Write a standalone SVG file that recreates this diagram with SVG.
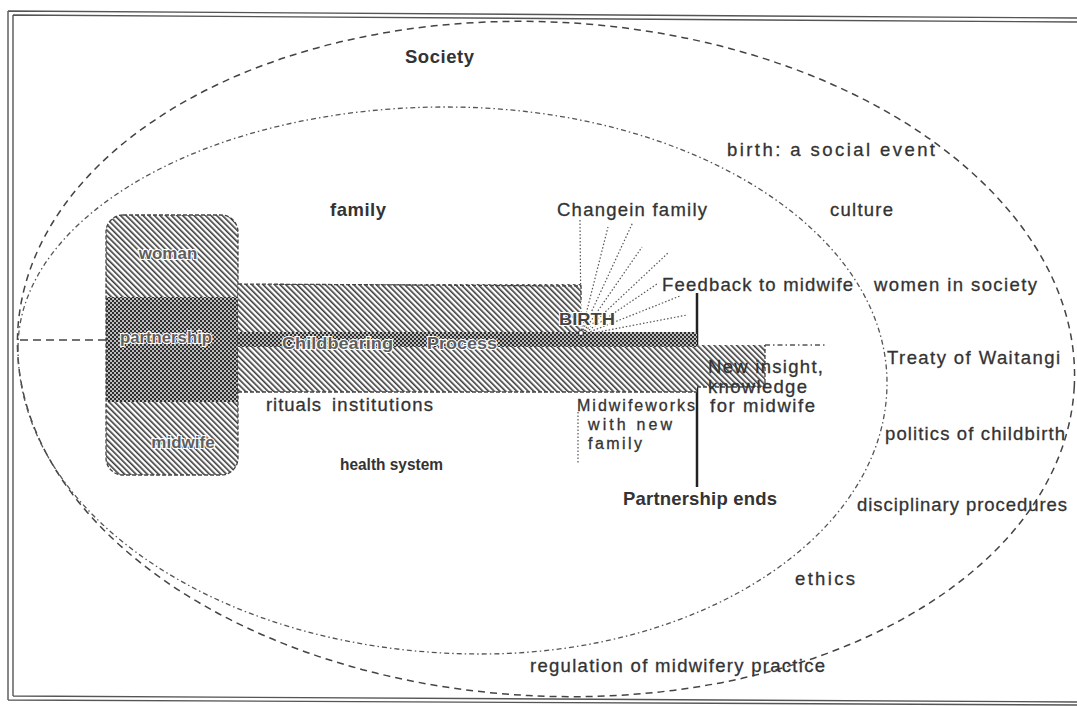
<svg xmlns="http://www.w3.org/2000/svg" width="1077" height="706" viewBox="0 0 1077 706">
<style>
.t{font-family:"Liberation Sans",Arial,sans-serif;font-size:18.5px;fill:#333;stroke:#333;stroke-width:0.3px}
.s{font-size:16px}
.b{font-weight:bold;stroke-width:0}
.g{font-family:"Liberation Sans",Arial,sans-serif;font-size:17px;font-weight:bold;fill:#5e5e5e;stroke:#fff;stroke-width:2.2px;paint-order:stroke}
.frame{fill:none;stroke:#555;stroke-width:1.4}
.outer{fill:none;stroke:#444;stroke-width:1.5;stroke-dasharray:7 5}
.inner{fill:none;stroke:#555;stroke-width:1.3;stroke-dasharray:5 3 1.5 3}
.ray{fill:none;stroke:#555;stroke-width:1.2;stroke-dasharray:1.5 2}
.edge{fill:none;stroke:#444;stroke-width:1.3;stroke-dasharray:4 2}
</style>
<defs>
<pattern id="hatch" width="4" height="4" patternUnits="userSpaceOnUse" patternTransform="rotate(-45)">
<rect width="4" height="4" fill="#fff"/><rect width="1.6" height="4" fill="#3a3a3a"/>
</pattern>
<pattern id="check" width="4" height="4" patternUnits="userSpaceOnUse">
<rect width="4" height="4" fill="#bdbdbd"/><rect width="2" height="2" fill="#2e2e2e"/><rect x="2" y="2" width="2" height="2" fill="#2e2e2e"/>
</pattern>
<clipPath id="boxclip"><rect x="106" y="215" width="132" height="260" rx="17"/></clipPath>
</defs>
<rect width="1077" height="706" fill="#fff"/>
<g id="frame">
<path class="frame" d="M8 11 L1077 18 M8 11 L8 700 M8 700 L1077 705"/>
<path class="frame" d="M13 15 L1077 22 M13 15 L13 696 M13 696 L1077 702"/>
</g>
<g id="society-ellipse">
<ellipse class="outer" cx="546" cy="359" rx="529" ry="337" transform="rotate(3 546 359)"/>
</g>
<g id="family-ellipse">
<path class="inner" d="M18 348 C18 215 210 107 446 107 C690 107 887 231 887 383 C887 533 705 654 481 654 C225 654 18 517 18 348 Z"/>
</g>
<g id="connectors">
<path d="M20 340 L106 340" fill="none" stroke="#444" stroke-width="1.5" stroke-dasharray="8 5"/>
<path class="ray" d="M581 330 L580 220 M582 330 L608 227 M583 330 L633 222 M584 331 L642 247 M585 331 L668 253 M586 332 L657 284 M587 333 L680 296 M588 334 L687 315"/>
<path d="M765 345 L826 345" fill="none" stroke="#555" stroke-width="1.3" stroke-dasharray="5 3 1.5 3"/>
<path class="ray" d="M578 412 L578 463"/>
<path d="M697 293 L697 487" fill="none" stroke="#222" stroke-width="2.5"/>
</g>
<g id="partners-box">
<g clip-path="url(#boxclip)">
<rect x="106" y="215" width="132" height="82" fill="url(#hatch)"/>
<rect x="106" y="297" width="132" height="105" fill="url(#check)"/>
<rect x="106" y="402" width="132" height="73" fill="url(#hatch)"/>
</g>
<rect class="edge" x="106" y="215" width="132" height="260" rx="17"/>
<text class="g" x="168" y="259" text-anchor="middle">woman</text>
<text class="g" x="166" y="343" text-anchor="middle" textLength="92" lengthAdjust="spacingAndGlyphs">partnership</text>
<text class="g" x="183" y="448" text-anchor="middle">midwife</text>
</g>
<g id="process-bar">
<rect x="238" y="284" width="343" height="49" fill="url(#hatch)"/>
<rect x="238" y="347" width="459" height="45" fill="url(#hatch)"/>
<rect x="697" y="345" width="68" height="42" fill="url(#hatch)"/>
<rect x="238" y="332" width="459" height="15" fill="url(#check)"/>
<path class="edge" d="M238 284 L581 286 L581 300 M238 392 L697 392 M697 387 L765 387 L765 345"/>
<text class="g" x="282" y="349" textLength="111" lengthAdjust="spacingAndGlyphs">Childbearing</text>
<text class="g" x="427" y="349" textLength="70" lengthAdjust="spacingAndGlyphs">Process</text>
<text class="g" x="559" y="325" textLength="56" lengthAdjust="spacingAndGlyphs" style="fill:#444">BIRTH</text>
<circle cx="581" cy="333" r="2.5" fill="#fff" stroke="#444" stroke-width="1.2"/>
</g>
<g id="labels">
<text class="t b" x="405" y="63" textLength="69" lengthAdjust="spacing">Society</text>
<text class="t" x="727" y="156" textLength="208" lengthAdjust="spacing">birth: a social event</text>
<text class="t b" x="330" y="216" textLength="56" lengthAdjust="spacing">family</text>
<text class="t" x="557" y="216" textLength="150" lengthAdjust="spacing">Changein family</text>
<text class="t" x="830" y="216" textLength="63" lengthAdjust="spacing">culture</text>
<text class="t" x="662" y="291" textLength="191" lengthAdjust="spacing">Feedback to midwife</text>
<text class="t" x="874" y="291" textLength="163" lengthAdjust="spacing">women in society</text>
<text class="t" x="887" y="364" textLength="173" lengthAdjust="spacing">Treaty of Waitangi</text>
<text class="t" x="885" y="440" textLength="180" lengthAdjust="spacing">politics of childbirth</text>
<text class="t" x="857" y="511" textLength="210" lengthAdjust="spacing">disciplinary procedures</text>
<text class="t" x="795" y="585" textLength="60" lengthAdjust="spacing">ethics</text>
<text class="t" x="530" y="672" textLength="295" lengthAdjust="spacing">regulation of midwifery practice</text>
<text class="t b" x="340" y="470" style="font-size:16.5px" textLength="103" lengthAdjust="spacingAndGlyphs">health system</text>
<text class="t b" x="623" y="505" textLength="154" lengthAdjust="spacing">Partnership ends</text>
<text class="t s" x="577" y="411" textLength="118" lengthAdjust="spacing">Midwifeworks</text>
<text class="t s" x="588" y="430" textLength="84" lengthAdjust="spacing">with new</text>
<text class="t s" x="588" y="449" textLength="54" lengthAdjust="spacing">family</text>
<text class="t" x="708" y="373" textLength="115" lengthAdjust="spacing">New insight,</text>
<text class="t" x="708" y="393" textLength="99" lengthAdjust="spacing">knowledge</text>
<text class="t" x="710" y="412" textLength="105" lengthAdjust="spacing">for midwife</text>
<text class="t" x="266" y="411" textLength="55" lengthAdjust="spacing">rituals</text>
<text class="t" x="332" y="411" textLength="101" lengthAdjust="spacing">institutions</text>
</g>
</svg>
